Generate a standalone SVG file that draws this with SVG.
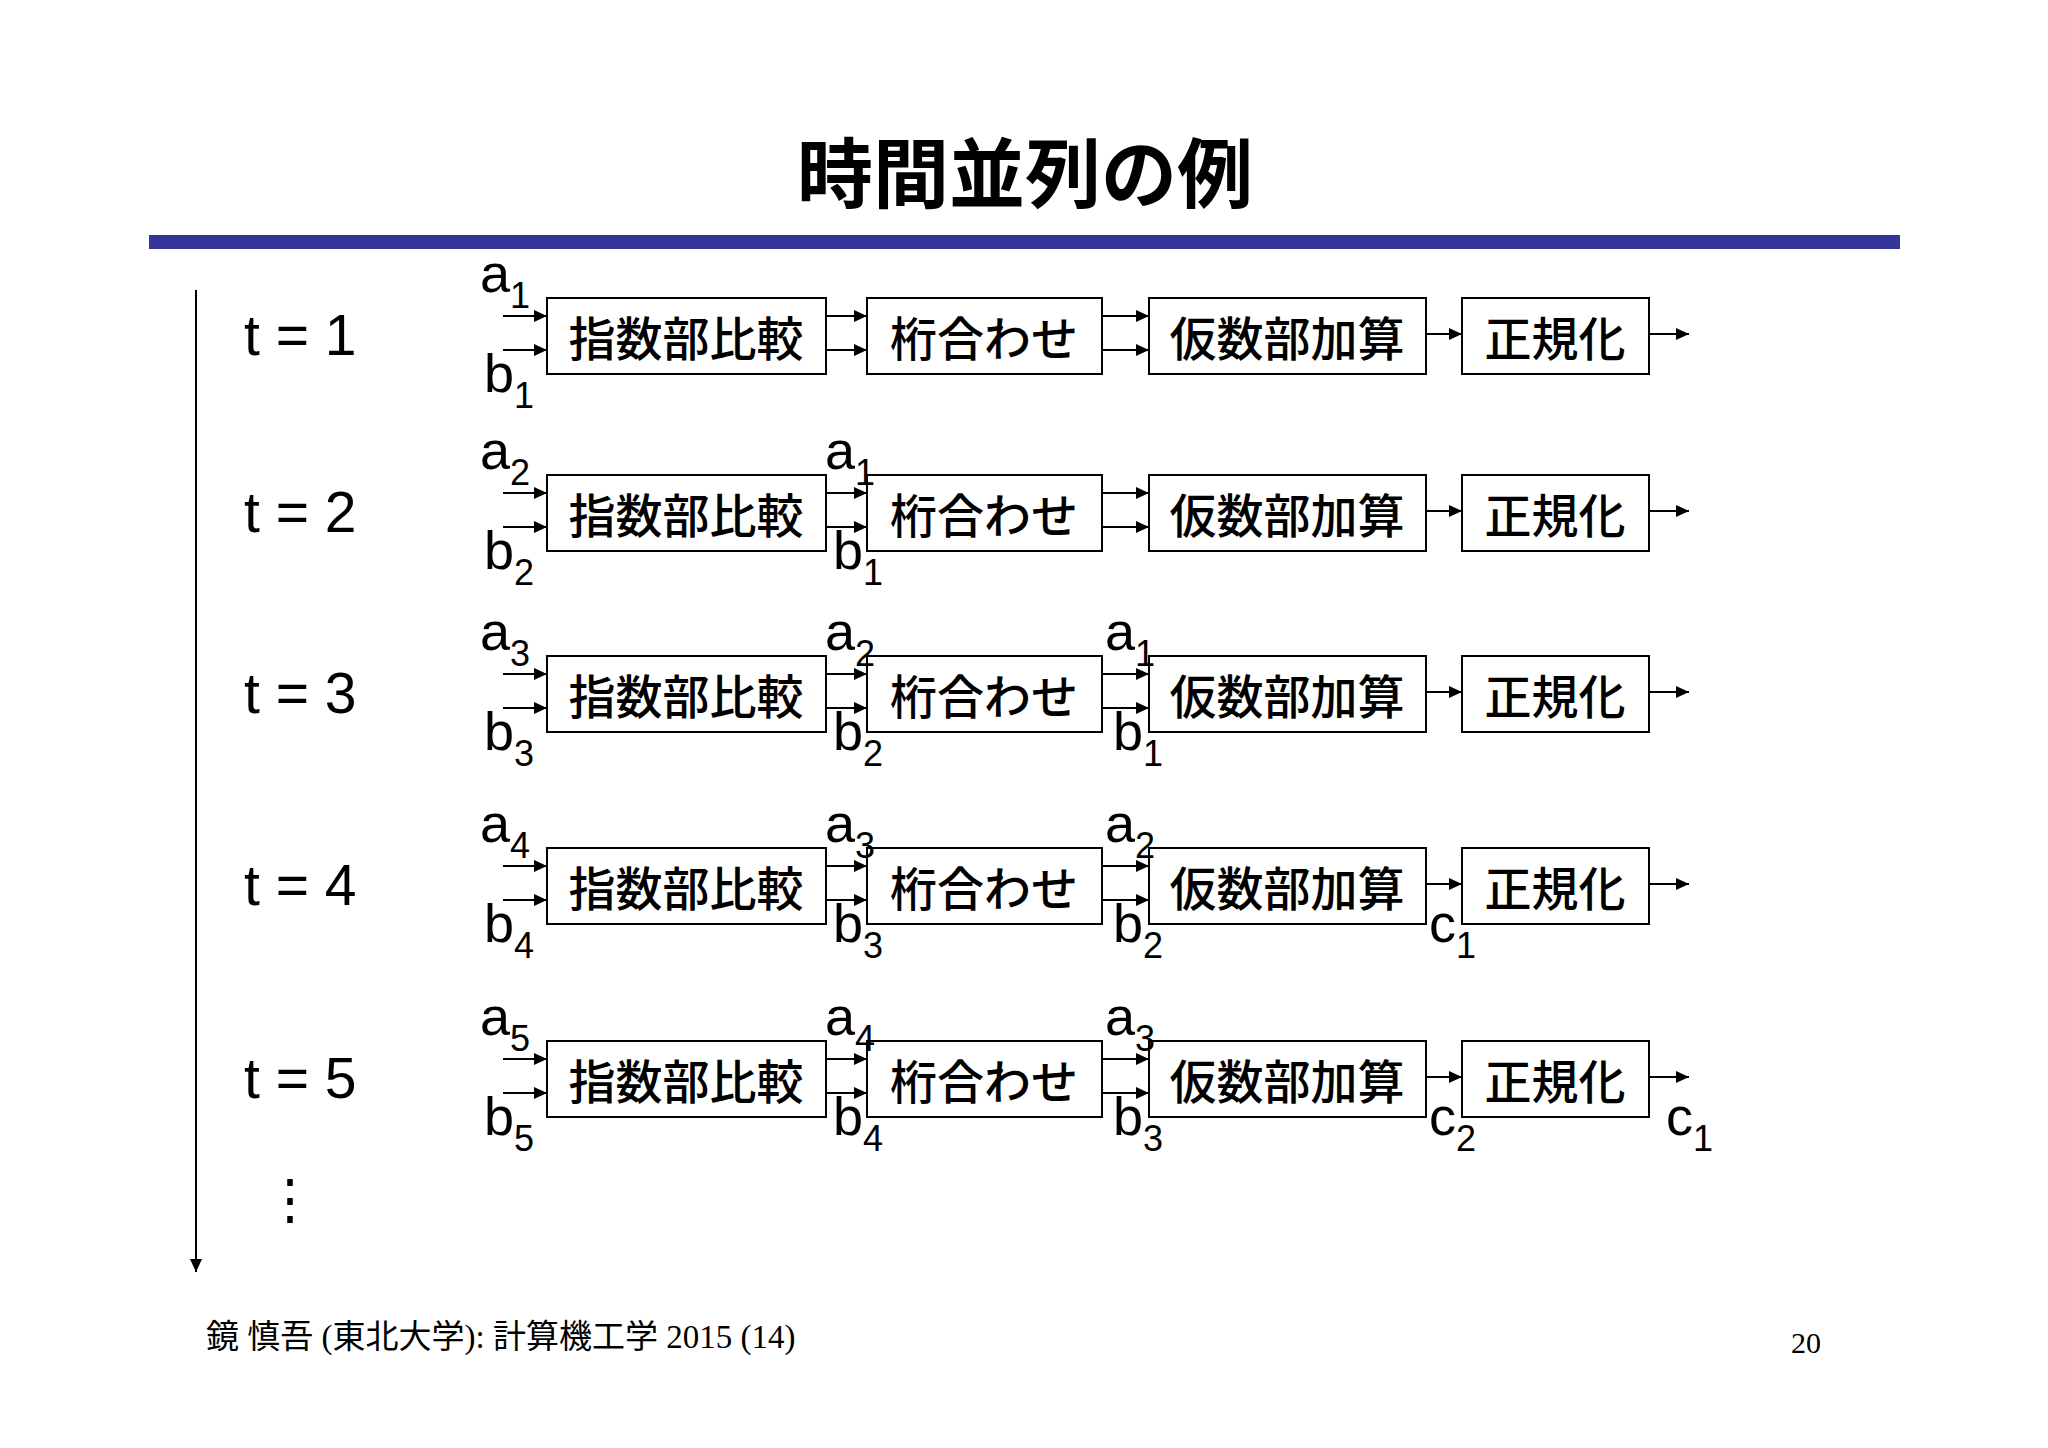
<svg xmlns="http://www.w3.org/2000/svg" width="2048" height="1448" viewBox="0 0 2048 1448">
<defs>
<marker id="ah" markerWidth="14" markerHeight="14" refX="13" refY="6" orient="auto" markerUnits="userSpaceOnUse"><path d="M0,0 L13,6 L0,12 Z" fill="#000"/></marker>
<style>
text{font-family:"Liberation Sans","Noto Sans CJK JP",sans-serif;fill:#000}
.box{fill:#fff;stroke:#000;stroke-width:2}
.bl{font-size:47px;text-anchor:middle;font-weight:500}
.lab{font-size:54px}
.sub{font-size:36px}
.t{font-size:57px}
.c line{stroke:#000;stroke-width:2;marker-end:url(#ah)}
</style>
</defs>
<rect width="2048" height="1448" fill="#fff"/>
<text x="1025" y="202" font-size="76" font-weight="bold" text-anchor="middle" style="font-family:'Noto Sans CJK JP',sans-serif">時間並列の例</text>
<rect x="149" y="235" width="1751" height="14" fill="#36369a"/>
<g class="c" id="timeline"><line x1="196" y1="290" x2="196" y2="1272"/></g>
<text x="290" y="1218" font-size="54" text-anchor="middle">⋮</text>

<g id="row1" transform="translate(0,298)">
<text class="t" x="244" y="57">t = 1</text>
<rect class="box" x="547" y="0" width="279" height="76"/><text class="bl" x="686" y="58">指数部比較</text>
<rect class="box" x="867" y="0" width="235" height="76"/><text class="bl" x="984" y="58">桁合わせ</text>
<rect class="box" x="1149" y="0" width="277" height="76"/><text class="bl" x="1287" y="58">仮数部加算</text>
<rect class="box" x="1462" y="0" width="187" height="76"/><text class="bl" x="1555" y="58">正規化</text>
<g class="c"><line x1="503" y1="18" x2="547" y2="18"/><line x1="503" y1="52" x2="547" y2="52"/><line x1="826" y1="18" x2="867" y2="18"/><line x1="826" y1="52" x2="867" y2="52"/><line x1="1102" y1="18" x2="1149" y2="18"/><line x1="1102" y1="52" x2="1149" y2="52"/><line x1="1426" y1="36" x2="1462" y2="36"/><line x1="1649" y1="36" x2="1689" y2="36"/></g>
<text class="lab" x="480" y="-6">a<tspan class="sub" dy="16">1</tspan></text>
<text class="lab" x="484" y="94">b<tspan class="sub" dy="16">1</tspan></text>
</g>

<g id="row2" transform="translate(0,475)">
<text class="t" x="244" y="57">t = 2</text>
<rect class="box" x="547" y="0" width="279" height="76"/><text class="bl" x="686" y="58">指数部比較</text>
<rect class="box" x="867" y="0" width="235" height="76"/><text class="bl" x="984" y="58">桁合わせ</text>
<rect class="box" x="1149" y="0" width="277" height="76"/><text class="bl" x="1287" y="58">仮数部加算</text>
<rect class="box" x="1462" y="0" width="187" height="76"/><text class="bl" x="1555" y="58">正規化</text>
<g class="c"><line x1="503" y1="18" x2="547" y2="18"/><line x1="503" y1="52" x2="547" y2="52"/><line x1="826" y1="18" x2="867" y2="18"/><line x1="826" y1="52" x2="867" y2="52"/><line x1="1102" y1="18" x2="1149" y2="18"/><line x1="1102" y1="52" x2="1149" y2="52"/><line x1="1426" y1="36" x2="1462" y2="36"/><line x1="1649" y1="36" x2="1689" y2="36"/></g>
<text class="lab" x="480" y="-6">a<tspan class="sub" dy="16">2</tspan></text>
<text class="lab" x="484" y="94">b<tspan class="sub" dy="16">2</tspan></text>
<text class="lab" x="825" y="-6">a<tspan class="sub" dy="16">1</tspan></text>
<text class="lab" x="833" y="94">b<tspan class="sub" dy="16">1</tspan></text>
</g>

<g id="row3" transform="translate(0,656)">
<text class="t" x="244" y="57">t = 3</text>
<rect class="box" x="547" y="0" width="279" height="76"/><text class="bl" x="686" y="58">指数部比較</text>
<rect class="box" x="867" y="0" width="235" height="76"/><text class="bl" x="984" y="58">桁合わせ</text>
<rect class="box" x="1149" y="0" width="277" height="76"/><text class="bl" x="1287" y="58">仮数部加算</text>
<rect class="box" x="1462" y="0" width="187" height="76"/><text class="bl" x="1555" y="58">正規化</text>
<g class="c"><line x1="503" y1="18" x2="547" y2="18"/><line x1="503" y1="52" x2="547" y2="52"/><line x1="826" y1="18" x2="867" y2="18"/><line x1="826" y1="52" x2="867" y2="52"/><line x1="1102" y1="18" x2="1149" y2="18"/><line x1="1102" y1="52" x2="1149" y2="52"/><line x1="1426" y1="36" x2="1462" y2="36"/><line x1="1649" y1="36" x2="1689" y2="36"/></g>
<text class="lab" x="480" y="-6">a<tspan class="sub" dy="16">3</tspan></text>
<text class="lab" x="484" y="94">b<tspan class="sub" dy="16">3</tspan></text>
<text class="lab" x="825" y="-6">a<tspan class="sub" dy="16">2</tspan></text>
<text class="lab" x="833" y="94">b<tspan class="sub" dy="16">2</tspan></text>
<text class="lab" x="1105" y="-6">a<tspan class="sub" dy="16">1</tspan></text>
<text class="lab" x="1113" y="94">b<tspan class="sub" dy="16">1</tspan></text>
</g>

<g id="row4" transform="translate(0,848)">
<text class="t" x="244" y="57">t = 4</text>
<rect class="box" x="547" y="0" width="279" height="76"/><text class="bl" x="686" y="58">指数部比較</text>
<rect class="box" x="867" y="0" width="235" height="76"/><text class="bl" x="984" y="58">桁合わせ</text>
<rect class="box" x="1149" y="0" width="277" height="76"/><text class="bl" x="1287" y="58">仮数部加算</text>
<rect class="box" x="1462" y="0" width="187" height="76"/><text class="bl" x="1555" y="58">正規化</text>
<g class="c"><line x1="503" y1="18" x2="547" y2="18"/><line x1="503" y1="52" x2="547" y2="52"/><line x1="826" y1="18" x2="867" y2="18"/><line x1="826" y1="52" x2="867" y2="52"/><line x1="1102" y1="18" x2="1149" y2="18"/><line x1="1102" y1="52" x2="1149" y2="52"/><line x1="1426" y1="36" x2="1462" y2="36"/><line x1="1649" y1="36" x2="1689" y2="36"/></g>
<text class="lab" x="480" y="-6">a<tspan class="sub" dy="16">4</tspan></text>
<text class="lab" x="484" y="94">b<tspan class="sub" dy="16">4</tspan></text>
<text class="lab" x="825" y="-6">a<tspan class="sub" dy="16">3</tspan></text>
<text class="lab" x="833" y="94">b<tspan class="sub" dy="16">3</tspan></text>
<text class="lab" x="1105" y="-6">a<tspan class="sub" dy="16">2</tspan></text>
<text class="lab" x="1113" y="94">b<tspan class="sub" dy="16">2</tspan></text>
<text class="lab" x="1429" y="94">c<tspan class="sub" dy="16">1</tspan></text>
</g>

<g id="row5" transform="translate(0,1041)">
<text class="t" x="244" y="57">t = 5</text>
<rect class="box" x="547" y="0" width="279" height="76"/><text class="bl" x="686" y="58">指数部比較</text>
<rect class="box" x="867" y="0" width="235" height="76"/><text class="bl" x="984" y="58">桁合わせ</text>
<rect class="box" x="1149" y="0" width="277" height="76"/><text class="bl" x="1287" y="58">仮数部加算</text>
<rect class="box" x="1462" y="0" width="187" height="76"/><text class="bl" x="1555" y="58">正規化</text>
<g class="c"><line x1="503" y1="18" x2="547" y2="18"/><line x1="503" y1="52" x2="547" y2="52"/><line x1="826" y1="18" x2="867" y2="18"/><line x1="826" y1="52" x2="867" y2="52"/><line x1="1102" y1="18" x2="1149" y2="18"/><line x1="1102" y1="52" x2="1149" y2="52"/><line x1="1426" y1="36" x2="1462" y2="36"/><line x1="1649" y1="36" x2="1689" y2="36"/></g>
<text class="lab" x="480" y="-6">a<tspan class="sub" dy="16">5</tspan></text>
<text class="lab" x="484" y="94">b<tspan class="sub" dy="16">5</tspan></text>
<text class="lab" x="825" y="-6">a<tspan class="sub" dy="16">4</tspan></text>
<text class="lab" x="833" y="94">b<tspan class="sub" dy="16">4</tspan></text>
<text class="lab" x="1105" y="-6">a<tspan class="sub" dy="16">3</tspan></text>
<text class="lab" x="1113" y="94">b<tspan class="sub" dy="16">3</tspan></text>
<text class="lab" x="1429" y="94">c<tspan class="sub" dy="16">2</tspan></text>
<text class="lab" x="1666" y="94">c<tspan class="sub" dy="16">1</tspan></text>
</g>

<text x="206" y="1348" font-size="33" style="font-family:'Liberation Serif','Noto Sans CJK JP',serif">鏡 慎吾 (東北大学): 計算機工学 2015 (14)</text>
<text x="1821" y="1353" font-size="30" text-anchor="end" style="font-family:'Liberation Serif',serif">20</text>
</svg>
